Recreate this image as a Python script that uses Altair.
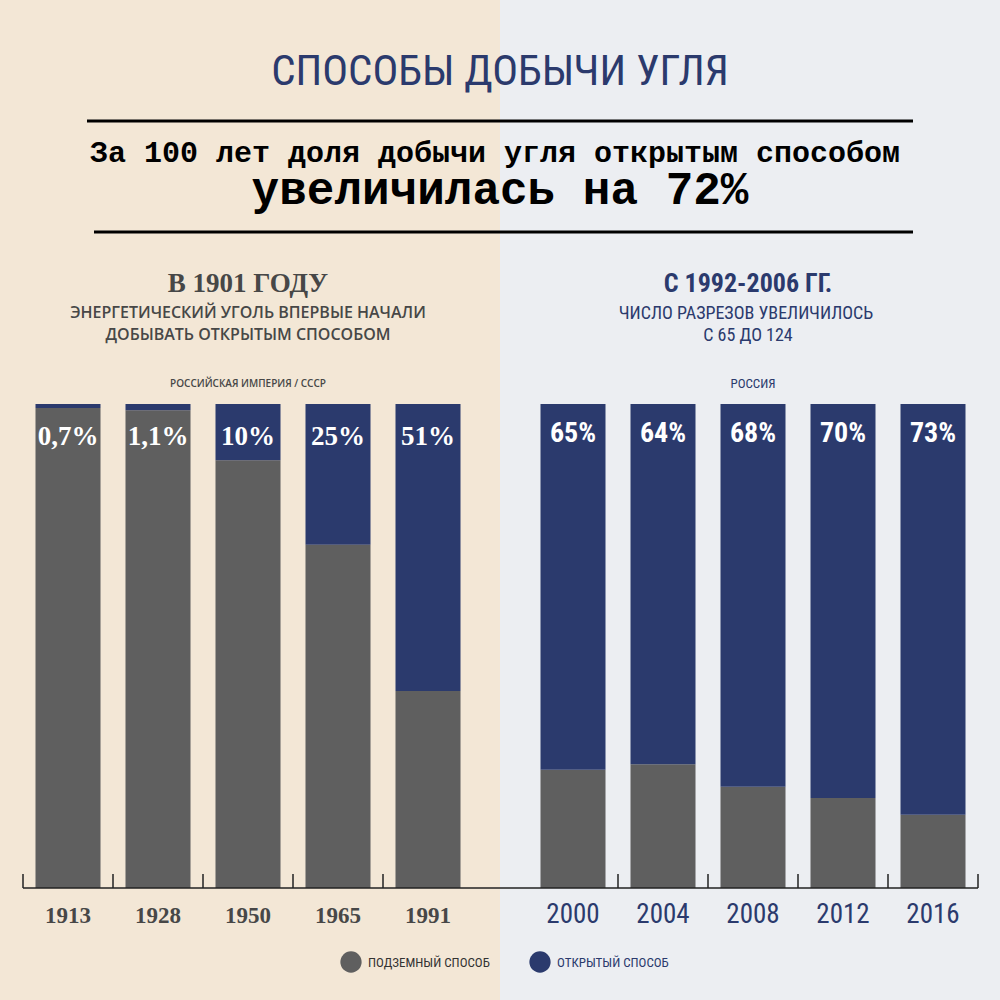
import altair as alt
import pandas as pd

# ---------------- data ----------------
methods = ["Подземный способ", "Открытый способ"]

years_ussr = ["1913", "1928", "1950", "1965", "1991"]
open_ussr = [0.7, 1.1, 10, 25, 51]
under_ussr = [85.3, 84.9, 76, 61, 35]
labels_ussr = ["0,7%", "1,1%", "10%", "25%", "51%"]

years_rf = ["2000", "2004", "2008", "2012", "2016"]
open_rf = [65, 64, 68, 70, 73]
under_rf = [21, 22, 18, 16, 13]
labels_rf = ["65%", "64%", "68%", "70%", "73%"]

title_main = "СПОСОБЫ ДОБЫЧИ УГЛЯ"
lead_1 = "За 100 лет доля добычи угля открытым способом"
lead_2 = "увеличилась на 72%"
left_head = "В 1901 ГОДУ"
left_sub = ["ЭНЕРГЕТИЧЕСКИЙ УГОЛЬ ВПЕРВЫЕ НАЧАЛИ", "ДОБЫВАТЬ ОТКРЫТЫМ СПОСОБОМ"]
left_cap = "РОССИЙСКАЯ ИМПЕРИЯ / СССР"
right_head = "С 1992-2006 ГГ."
right_sub = ["ЧИСЛО РАЗРЕЗОВ УВЕЛИЧИЛОСЬ", "С 65 ДО 124"]
right_cap = "РОССИЯ"
legend_labels = ["ПОДЗЕМНЫЙ СПОСОБ", "ОТКРЫТЫЙ СПОСОБ"]

# ---------------- styles ----------------
GREY = "#5f5f5f"
NAVY = "#2b3a6d"
BEIGE = "#f3e7d6"
LIGHT = "#eceef2"
TXT_GREY = "#474747"
COND = "'Liberation Sans Narrow', 'Roboto Condensed', 'DejaVu Sans Condensed', sans-serif"
SERIF = "'Liberation Serif', 'DejaVu Serif', serif"
SANS = "'Open Sans', 'Noto Sans', sans-serif"
MONO = "'Liberation Mono', 'DejaVu Sans Mono', monospace"

W, H = 450, 484
one = alt.Data(values=[{"k": 1}])


def table(years, opn, und, labels):
    rows = []
    for y, o, u, l in zip(years, opn, und, labels):
        rows.append({"year": y, "method": methods[0], "value": u, "ord": 0, "label": ""})
        rows.append({"year": y, "method": methods[1], "value": o, "ord": 1, "label": l})
    return pd.DataFrame(rows)


def txt(text, x, y, size, color, font, weight="normal", align="center"):
    return alt.Chart(one).mark_text(
        text=text, font=font, fontSize=size, color=color, fontWeight=weight,
        align=align, baseline="alphabetic"
    ).encode(x=alt.value(x), y=alt.value(y))


def hrule(x, x2, y):
    return alt.Chart(one).mark_rule(color="black", strokeWidth=3).encode(
        x=alt.value(x), x2=alt.value(x2), y=alt.value(y))


def panel(years, opn, und, labels, side):
    df = table(years, opn, und, labels)
    left = side == "left"
    bg_x, bg_x2 = (-23, 477) if left else (-28, 472)
    bg = alt.Chart(one).mark_rect(color=BEIGE if left else LIGHT).encode(
        x=alt.value(bg_x), x2=alt.value(bg_x2), y=alt.value(-404), y2=alt.value(596)
    )
    xenc = alt.X(
        "year:N", sort=years,
        scale=alt.Scale(paddingInner=0, paddingOuter=0),
        axis=alt.Axis(
            title=None, domain=False, ticks=False, tickSize=0, labelAngle=0,
            labelPadding=34, labelBaseline="alphabetic", zindex=2,
            labelFont=SERIF if left else COND,
            labelFontSize=23 if left else 27,
            labelFontWeight="bold" if left else "normal",
            labelColor=TXT_GREY if left else NAVY,
        ),
    )
    bars = alt.Chart(df).mark_bar(size=65).encode(
        x=xenc,
        y=alt.Y("value:Q", stack="zero",
                scale=alt.Scale(domain=[0, 86], nice=False, zero=True), axis=None),
        color=alt.Color("method:N", scale=alt.Scale(domain=methods, range=[GREY, NAVY]), legend=None),
        order=alt.Order("ord:Q"),
    )
    pct = alt.Chart(df).transform_filter(alt.datum.ord == 1).mark_text(
        font=SERIF if left else COND, fontSize=27 if left else 28, fontWeight="bold",
        color="white", baseline="alphabetic"
    ).encode(
        x=alt.X("year:N", sort=years),
        y=alt.value(41 if left else 38),
        text="label:N",
    )
    base = alt.Chart(one).mark_rule(color="#222222", strokeWidth=1.5).encode(
        x=alt.value(0 if left else -28), x2=alt.value(477 if left else W), y=alt.value(H)
    )
    ticks = alt.Chart(df).transform_filter(alt.datum.ord == 0).mark_rule(
        color="#222222", strokeWidth=1.5
    ).encode(
        x=alt.X("year:N", sort=years, bandPosition=0 if left else 1),
        y=alt.value(H - 14), y2=alt.value(H),
    )
    layers = [bg, bars, pct, base, ticks]
    if left:
        layers += [
            txt(left_head, 225, -112, 27, TXT_GREY, SERIF, "bold"),
            txt(left_sub[0], 225, -86, 16, TXT_GREY, SANS, 600),
            txt(left_sub[1], 225, -64, 16, TXT_GREY, SANS, 600),
            txt(left_cap, 225, -17, 10, TXT_GREY, SANS, 600),
            alt.Chart(one).mark_point(filled=True, shape="circle", size=452, opacity=1, color=GREY).encode(
                x=alt.value(328), y=alt.value(558)),
            txt(legend_labels[0], 345, 563, 13, "#333333", COND, "normal", "left"),
        ]
    else:
        # shared header (spans both halves) drawn last so it sits above both backgrounds
        layers += [
            txt(title_main, -28, -319, 43, NAVY, COND),
            hrule(-441, 385, -283),
            txt(lead_1, -33, -242, 30, "black", MONO, "bold"),
            txt(lead_2, -28, -200, 46, "black", MONO, "bold"),
            hrule(-434, 385, -172),
            txt(right_head, 220, -112, 26, NAVY, COND, "bold"),
            txt(right_sub[0], 218, -85, 18, NAVY, COND),
            txt(right_sub[1], 220, -63, 18, NAVY, COND),
            txt(right_cap, 225, -16, 13, NAVY, COND),
            alt.Chart(one).mark_point(filled=True, shape="circle", size=452, opacity=1, color=NAVY).encode(
                x=alt.value(12), y=alt.value(558)),
            txt(legend_labels[1], 29, 563, 13, NAVY, COND, "normal", "left"),
        ]
    return alt.layer(*layers).properties(width=W, height=H)


left_panel = panel(years_ussr, open_ussr, under_ussr, labels_ussr, "left")
right_panel = panel(years_rf, open_rf, under_rf, labels_rf, "right")

chart = alt.hconcat(left_panel, right_panel, spacing=55, bounds="flush").properties(
    padding=0, background="white"
).configure_view(strokeWidth=0)

chart.save("out.html", embed_options={"renderer": "svg", "actions": False})
